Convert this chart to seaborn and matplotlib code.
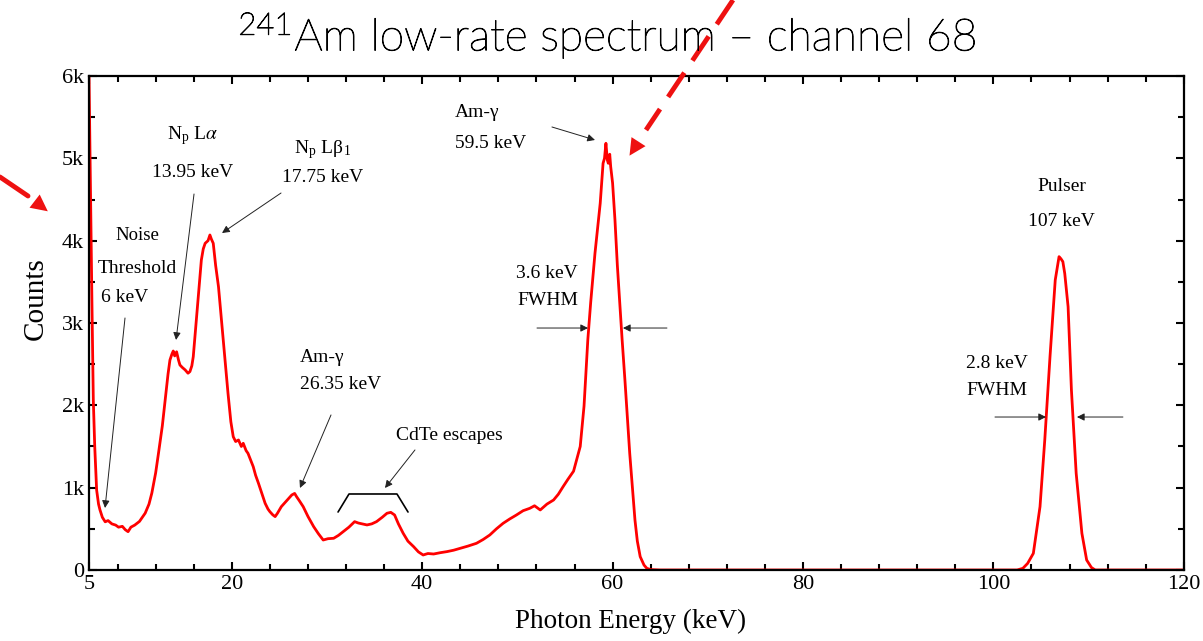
import numpy as np
import pandas as pd
import seaborn as sns
import matplotlib
matplotlib.use("Agg")
import matplotlib.pyplot as plt
import matplotlib.patheffects as pe
from matplotlib.ticker import FixedLocator, MultipleLocator
from matplotlib.lines import Line2D
from matplotlib.patches import FancyArrowPatch

# ---------------- data ----------------
energy_kev = [
    5.0, 5.15, 5.3, 5.45, 5.6, 5.8, 6.0, 6.15, 6.4, 6.7, 7.0, 7.4, 7.8, 8.1, 8.5, 8.8, 9.1, 9.4, 9.8,
    10.3, 10.9, 11.3, 11.6, 12.0, 12.3, 12.7, 13.0, 13.3, 13.5, 13.7, 13.85, 14.0, 14.2, 14.4, 14.55,
    14.8, 15.1, 15.4, 15.6, 15.8, 15.95, 16.3, 16.6, 16.8, 17.0, 17.2, 17.5, 17.7, 17.85, 18.05, 18.3,
    18.6, 18.9, 19.1, 19.4, 19.6, 19.9, 20.15, 20.4, 20.7, 21.0, 21.2, 21.5, 21.7, 22.0, 22.25, 22.5,
    22.8, 23.1, 23.5, 23.8, 24.0, 24.3, 24.55, 24.8, 25.2, 25.6, 26.0, 26.3, 26.6, 26.8, 27.1, 27.5,
    28.0, 28.6, 29.1, 29.6, 30.1, 30.7, 31.2, 31.7, 32.3, 32.9, 33.3, 33.7, 34.2, 34.7, 35.2, 35.8,
    36.3, 36.7, 37.1, 37.5, 38.0, 38.5, 39.1, 39.6, 40.1, 40.6, 41.2, 41.9, 42.6, 43.3, 44.0, 44.8,
    45.7, 46.4, 47.1, 47.8, 48.5, 49.2, 49.9, 50.6, 51.3, 51.8, 52.4, 53.1, 53.8, 54.3, 54.8, 55.3,
    55.9, 56.6, 57.0, 57.4, 57.7, 58.15, 58.7, 59.0, 59.15, 59.3, 59.45, 59.55, 59.7, 59.8, 60.0,
    60.25, 60.5, 60.8, 61.0, 61.3, 61.8, 62.35, 62.6, 62.9, 63.3, 63.6, 64.0, 65.0, 80.0, 102.5,
    103.1, 103.6, 104.2, 104.9, 105.4, 105.95, 106.5, 106.9, 107.1, 107.3, 107.5, 107.85, 108.2,
    108.7, 109.3, 109.8, 110.3, 110.7, 120.0,
]
counts = [
    6000, 4600, 3300, 2065, 1500, 970, 800, 730, 640, 585, 600, 560, 545, 520, 530, 490, 465, 520, 545,
    590, 690, 800, 935, 1180, 1420, 1750, 2065, 2380, 2550, 2620, 2660, 2600, 2650, 2550, 2490,
    2460, 2430, 2390, 2410, 2480, 2590, 3077, 3500, 3765, 3900, 3968, 4000, 4069, 4020, 3968, 3700,
    3441, 3050, 2794, 2400, 2146, 1800, 1619, 1560, 1579, 1500, 1539, 1450, 1417, 1330, 1255, 1150,
    1053, 950, 810, 740, 708, 670, 648, 690, 769, 820, 870, 911, 930, 891, 840, 769,
    650, 526, 440, 364, 380, 385, 420, 466, 520, 587, 570, 560, 547, 560, 587, 640,
    689, 700, 668, 560, 446, 350, 283, 220, 182, 200, 194, 210, 223, 240, 263, 290,
    324, 370, 425, 500, 567, 620, 668, 720, 749, 780, 729, 800, 850, 920, 1012, 1100,
    1200, 1500, 1990, 2800, 3250, 3847, 4454, 4940, 5000, 5183, 4980, 4940, 5050, 4900, 4700,
    4251, 3700, 3150, 2800, 2300, 1417, 607, 350, 162, 60, 20, 5, 0, 0, 0,
    20, 80, 202, 769, 1579, 2591, 3522, 3806, 3780, 3745, 3600, 3198, 2186,
    1174, 445, 121, 30, 0, 0,
]
x_ticks = [5, 20, 40, 60, 80, 100, 120]
y_ticks = [0, 1000, 2000, 3000, 4000, 5000, 6000]
y_tick_labels = ["0", "1k", "2k", "3k", "4k", "5k", "6k"]

df = pd.DataFrame({"Energy": energy_kev, "Counts": counts})

# ---------------- style ----------------
sns.set_theme(style="ticks")
plt.rcParams["font.family"] = ["Liberation Serif", "DejaVu Serif"]
plt.rcParams["mathtext.fontset"] = "stix"
plt.rcParams["text.color"] = "black"
plt.rcParams["axes.labelcolor"] = "black"

fig = plt.figure(figsize=(12.03, 6.41), dpi=100)
ax = fig.add_axes([0.074, 0.1108, 0.910, 0.7706])

sns.lineplot(data=df, x="Energy", y="Counts", ax=ax, color="#ff0000", linewidth=2.0,
             estimator=None, sort=False)

ax.set_xlim(5, 120)
ax.set_ylim(0, 6000)
ax.xaxis.set_major_locator(FixedLocator(x_ticks))
ax.xaxis.set_minor_locator(MultipleLocator(4))
ax.yaxis.set_major_locator(FixedLocator(y_ticks))
ax.yaxis.set_minor_locator(MultipleLocator(500))
ax.set_yticklabels(y_tick_labels)
ax.tick_params(which="both", direction="in", top=True, right=True, colors="black",
               labelsize=16, width=1.5)
ax.tick_params(which="major", length=6)
ax.tick_params(which="minor", length=4)
for s in ax.spines.values():
    s.set_linewidth(1.6)
    s.set_color("black")
ax.set_xlabel("Photon Energy (keV)", fontsize=19.5)
ax.set_ylabel("Counts", fontsize=21)
ax.xaxis.set_label_coords(0.495, -0.078)
ax.yaxis.set_label_coords(-0.037, 0.55)

# ---------------- annotations ----------------
fs = 14
arr = dict(arrowstyle="-|>", color="#222222", lw=0.7, mutation_scale=11, shrinkA=0, shrinkB=0)

ax.text(10.04, 4057, "Noise", fontsize=fs - 0.5, ha="center", va="center")
ax.text(10.04, 3668, "Threshold", fontsize=fs, ha="center", va="center")
ax.text(6.26, 3304, "6 keV", fontsize=fs, ha="left", va="center")
ax.annotate("", xy=(6.68, 753), xytext=(8.78, 3061), arrowprops=arr)

ax.text(15.92, 5283, r"N$_\mathregular{p}$ L$\alpha$", fontsize=fs, ha="center", va="center")
ax.text(15.92, 4834, "13.95 keV", fontsize=fs, ha="center", va="center")
ax.annotate("", xy=(14.14, 2794), xytext=(16.03, 4567), arrowprops=arr)

ax.text(29.58, 5101, r"N$_\mathregular{p}$ Lβ$_\mathregular{1}$", fontsize=fs, ha="center", va="center")
ax.text(29.58, 4773, "17.75 keV", fontsize=fs, ha="center", va="center")
ax.annotate("", xy=(18.97, 4093), xytext=(25.17, 4579), arrowprops=arr)

ax.text(27.16, 2575, "Am-γ", fontsize=fs, ha="left", va="center")
ax.text(27.16, 2247, "26.35 keV", fontsize=fs, ha="left", va="center")
ax.annotate("", xy=(27.16, 996), xytext=(30.42, 1883), arrowprops=arr)

ax.text(42.82, 1628, "CdTe escapes", fontsize=fs, ha="center", va="center")
ax.annotate("", xy=(36.09, 996), xytext=(39.24, 1458), arrowprops=arr)
ax.plot([31.16, 32.31, 37.35, 38.51], [704, 923, 923, 704], color="black", lw=1.2)

ax.text(43.45, 5551, "Am-γ", fontsize=fs, ha="left", va="center")
ax.text(43.45, 5186, "59.5 keV", fontsize=fs, ha="left", va="center")
ax.annotate("", xy=(58.15, 5223), xytext=(53.63, 5381), arrowprops=arr)

ax.text(56.37, 3607, "3.6 keV", fontsize=fs, ha="right", va="center")
ax.text(56.37, 3279, "FWHM", fontsize=fs, ha="right", va="center")
ax.annotate("", xy=(57.42, 2939), xytext=(52.06, 2939), arrowprops=arr)
ax.annotate("", xy=(61.09, 2939), xytext=(65.71, 2939), arrowprops=arr)

ax.text(107.2, 4652, "Pulser", fontsize=fs, ha="center", va="center")
ax.text(107.2, 4227, "107 keV", fontsize=fs, ha="center", va="center")

ax.text(100.38, 2514, "2.8 keV", fontsize=fs, ha="center", va="center")
ax.text(100.38, 2186, "FWHM", fontsize=fs, ha="center", va="center")
ax.annotate("", xy=(105.53, 1858), xytext=(100.17, 1858), arrowprops=arr)
ax.annotate("", xy=(108.78, 1858), xytext=(113.61, 1858), arrowprops=arr)

# ---------------- title ----------------
fig.text(0.505, 0.945, r"$^{\mathregular{241}}$Am low-rate spectrum – channel 68",
         fontsize=32, ha="center", va="center", family=["Lato", "DejaVu Sans"],
         fontweight="light", color="black",
         path_effects=[pe.withStroke(linewidth=0.7, foreground="black")])

# ---------------- red dashed pointer arrows (figure pixels) ----------------
H = 641
fig.add_artist(Line2D([733, 646], [H - 0, H - 130], transform=None, color="#ee1111",
                      lw=3.5, linestyle=(0, (6, 3))))
fig.add_artist(Line2D([0, 28], [H - 177, H - 196], transform=None, color="#ee1111", lw=3.5))
fig.add_artist(FancyArrowPatch((646, H - 130), (628, H - 158), transform=None,
                               arrowstyle="-|>", mutation_scale=30, color="#ee1111", lw=0))
fig.add_artist(FancyArrowPatch((28, H - 196), (50, H - 213), transform=None,
                               arrowstyle="-|>", mutation_scale=30, color="#ee1111", lw=0))

fig.savefig("out.png", dpi=100)
